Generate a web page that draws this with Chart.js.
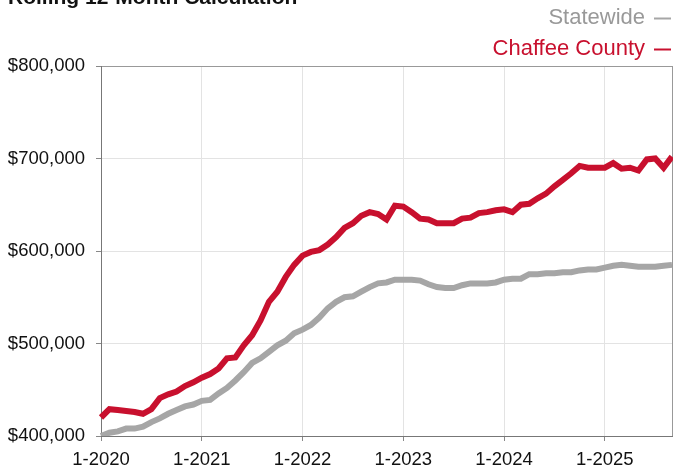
<!DOCTYPE html>
<html>
<head>
<meta charset="utf-8">
<script src="https://cdn.jsdelivr.net/npm/chart.js@4"></script>
<style>
html, body { margin: 0; padding: 0; background: #fff; }
#wrap { width: 673px; height: 468px; }
</style>
</head>
<body>
<div id="wrap"><canvas id="line-chart"></canvas></div>
<script>
var titleText = 'Rolling 12-Month Calculation';
var years = [2020, 2021, 2022, 2023, 2024, 2025];
var lastMonth = 9; // series run through 9-2025
var yTicks = [400000, 500000, 600000, 700000, 800000];

var statewide = [
    400000, 403500, 405000, 408000, 408000, 410000, 415000, 419000, 424000, 428000, 432000, 434000,
    438000, 439000, 446000, 452000, 460000, 469000, 479000, 484000, 491000, 498000, 503000, 511000,
    515000, 520000, 528000, 538000, 545000, 550000, 551000, 556000, 561000, 565000, 566000, 569000,
    569000, 569000, 568000, 564000, 561000, 560000, 560000, 563000, 565000, 565000, 565000, 566000,
    569000, 570000, 570000, 575000, 575000, 576000, 576000, 577000, 577000, 579000, 580000, 580000,
    582000, 584000, 585000, 584000, 583000, 583000, 583000, 584000, 585000
];
var chaffee = [
    420000, 429000, 428000, 427000, 426000, 424000, 429000, 441000, 445000, 448000, 454000, 458000,
    463000, 467000, 473000, 484000, 485000, 498000, 509000, 525000, 545000, 556000, 572000, 585000,
    595000, 599000, 601000, 607000, 615000, 625000, 630000, 638000, 642000, 640000, 634000, 649000,
    648000, 642000, 635000, 634000, 630000, 630000, 630000, 635000, 636000, 641000, 642000, 644000,
    645000, 642000, 650000, 651000, 657000, 662000, 670000, 677000, 684000, 692000, 690000, 690000,
    690000, 695000, 689000, 690000, 687000, 699000, 700000, 690000, 702000
];

var months = [];
years.forEach(function (y) {
    var end = (y === years[years.length - 1]) ? lastMonth : 12;
    for (var m = 1; m <= end; m++) months.push(m + '-' + y);
});
var lastIndex = months.length - 1;

var axisFont = { family: '"Liberation Sans", Arial, sans-serif', size: 18.5, lineHeight: 1 };

// title (cut off at the top) and the stacked legend on the right
const headerPlugin = {
    id: 'header',
    afterDraw(chart) {
        const ctx = chart.ctx;
        ctx.save();
        ctx.font = 'bold 21px "Liberation Sans", Arial, sans-serif';
        ctx.fillStyle = '#111';
        ctx.textAlign = 'left';
        ctx.textBaseline = 'alphabetic';
        ctx.fillText(titleText, 8, 4);

        ctx.font = '22px "Liberation Sans", Arial, sans-serif';
        ctx.textAlign = 'right';
        ctx.textBaseline = 'middle';
        var rows = [
            { ds: chart.data.datasets[0], y: 18, text: '#999999' },
            { ds: chart.data.datasets[1], y: 49, text: '#c8102e' }
        ];
        rows.forEach(function (r) {
            ctx.fillStyle = r.text;
            ctx.fillText(r.ds.label, 645, r.y);
            ctx.strokeStyle = r.ds.borderColor;
            ctx.lineWidth = 2;
            ctx.beginPath();
            ctx.moveTo(654, r.y + 0.5);
            ctx.lineTo(671, r.y + 0.5);
            ctx.stroke();
        });
        ctx.restore();
    }
};

var chart = document.getElementById('line-chart');

let lineChart = new Chart(chart, {
    type: 'line',
    data: {
        labels: months,
        datasets: [{
            label: 'Statewide',
            data: statewide,
            borderColor: '#a6a6a6',
            borderWidth: 6,
            pointRadius: 0,
            tension: 0,
            fill: false
        }, {
            label: 'Chaffee County',
            data: chaffee,
            borderColor: '#c8102e',
            borderWidth: 6,
            pointRadius: 0,
            tension: 0,
            fill: false
        }]
    },
    options: {
        responsive: true,
        maintainAspectRatio: false,
        animation: false,
        layout: { padding: { top: 66, left: 0, right: 1, bottom: 0 } },
        plugins: {
            legend: { display: false },
            tooltip: { enabled: false }
        },
        scales: {
            x: {
                grid: {
                    color: function (c) {
                        if (c.index === lastIndex) return '#999999';
                        return (c.index % 12 === 0) ? '#e3e3e3' : 'rgba(0,0,0,0)';
                    },
                    tickColor: function (c) {
                        return (c.index % 12 === 0) ? '#888888' : 'rgba(0,0,0,0)';
                    },
                    tickLength: 5
                },
                border: { color: '#777777' },
                ticks: {
                    autoSkip: false,
                    maxRotation: 0,
                    minRotation: 0,
                    padding: 10,
                    color: '#111',
                    font: axisFont,
                    callback: function (val, i) {
                        return i % 12 === 0 ? this.getLabelForValue(val) : '';
                    }
                },
                afterFit: function (scale) {
                    scale.height = 32;
                    scale.paddingLeft = 0;
                    scale.paddingRight = 0;
                }
            },
            y: {
                min: yTicks[0],
                max: yTicks[yTicks.length - 1],
                grid: {
                    color: function (c) {
                        return c.tick && c.tick.value === yTicks[yTicks.length - 1] ? '#999999' : '#e3e3e3';
                    },
                    tickColor: '#888888',
                    tickLength: 5
                },
                border: { color: '#777777' },
                ticks: {
                    stepSize: 100000,
                    padding: 11,
                    color: '#111',
                    font: axisFont,
                    callback: function (v) { return '$' + v.toLocaleString('en-US'); }
                },
                afterFit: function (scale) {
                    scale.width = 101;
                }
            }
        }
    },
    plugins: [headerPlugin]
});
</script>
</body>
</html>
